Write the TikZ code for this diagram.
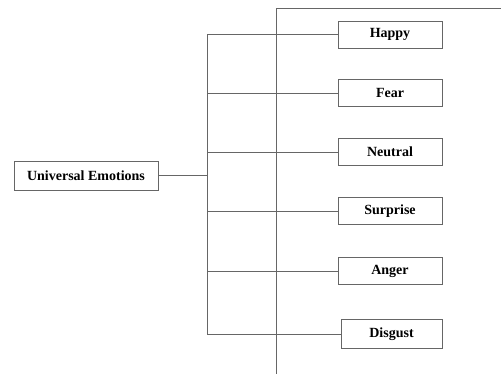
\documentclass[tikz,border=0pt]{standalone}
\usepackage{fontspec}
\setmainfont{Liberation Serif}
\begin{document}
\begin{tikzpicture}[x=1pt,y=-1pt,
  box/.style={draw=black!60, line width=0.9pt, fill=white, inner sep=0pt,
    font=\bfseries\fontsize{14}{16}\selectfont, text=black},
  emo/.style={box, minimum width=104pt, minimum height=27pt},
  wire/.style={draw=black!60, line width=0.8pt}]
\useasboundingbox (0,0) rectangle (501,374);
% vertical divider with its top rule
\coordinate (dtop) at (276,8);
\coordinate (dbot) at (276,374);
\coordinate (dend) at (501,8);
\draw[wire] (dbot) -- (dtop) -- (dend);
% root
\node[box, minimum width=144pt, minimum height=29pt] (root) at (86,175.5) {Universal Emotions};
% leaves
\node[emo] (happy)    at (390,34.5)  {Happy};
\node[emo] (fear)     at (390,93)    {Fear};
\node[emo] (neutral)  at (390,152)   {Neutral};
\node[emo] (surprise) at (390,211)   {Surprise};
\node[emo] (anger)    at (390,271)   {Anger};
\node[emo, minimum width=101pt, minimum height=29pt] (disgust) at (391.5,334) {Disgust};
% bracket joints
\coordinate (bj) at (207,175.5);
\foreach \n in {happy,fear,neutral,surprise,anger,disgust}
  \coordinate (b-\n) at (207,0 |- \n.west);
\draw[wire] (root.east) -- (bj);
\draw[wire] (b-happy) -- (b-disgust);
\foreach \n in {happy,fear,neutral,surprise,anger,disgust}
  \draw[wire] (b-\n) -- (\n.west);
\end{tikzpicture}
\end{document}
